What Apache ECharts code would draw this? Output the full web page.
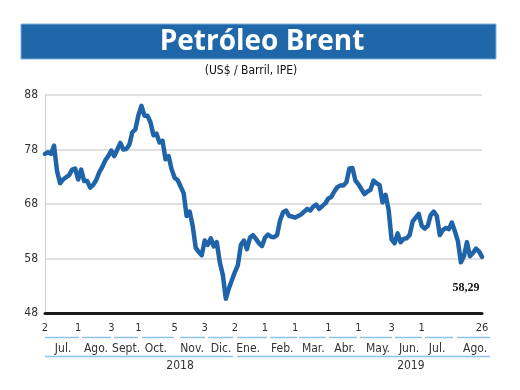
<!DOCTYPE html>
<html><head><meta charset="utf-8">
<script src="https://cdn.jsdelivr.net/npm/echarts@6/dist/echarts.min.js"></script>
<style>html,body{margin:0;padding:0;background:#fff;}#c{width:520px;height:390px;}</style>
</head><body><div id="c"></div>
<script>
// Brent price samples (US$/barrel), roughly every other trading day, Jul 2 2018 -> Aug 26 2019
const prices = [
  77.2, 77.5, 77.2, 78.7, 74.0, 71.8, 72.5, 72.9, 73.3, 74.3,
  74.5, 72.5, 74.3, 72.2, 72.2, 71.0, 71.5, 72.4, 73.8, 74.8,
  76.0, 76.8, 77.8, 76.8, 78.0, 79.2, 78.0, 78.1, 78.9, 81.2,
  81.7, 84.3, 86.0, 84.2, 84.2, 83.0, 80.6, 80.9, 79.3, 79.6,
  76.2, 76.8, 74.4, 72.8, 72.4, 71.2, 70.0, 65.8, 66.6, 64.0,
  60.0, 59.2, 58.6, 61.3, 60.5, 61.7, 60.2, 61.0, 57.3, 55.0,
  50.6, 52.5, 54.0, 55.5, 56.8, 60.5, 61.3, 59.7, 61.8, 62.3,
  61.6, 60.8, 60.3, 61.8, 62.4, 62.0, 61.9, 62.3, 65.0, 66.5,
  66.8, 65.8, 65.7, 65.5, 65.8, 66.1, 66.6, 67.1, 66.8, 67.5,
  67.9, 67.1, 67.6, 68.1, 69.0, 69.3, 70.3, 71.1, 71.4, 71.4,
  72.0, 74.5, 74.6, 72.3, 71.6, 70.7, 69.8, 70.3, 70.6, 72.3,
  71.8, 71.5, 68.3, 69.7, 67.0, 61.5, 60.8, 62.6, 61.0, 61.6,
  61.7, 62.3, 64.8, 65.5, 66.2, 64.0, 63.5, 64.0, 66.0, 66.6,
  65.8, 62.3, 63.2, 63.6, 63.4, 64.6, 63.0, 61.2, 57.3, 58.4,
  61.0, 58.4, 59.0, 59.8, 59.3, 58.29
];
const categories = prices.map((_, i) => 'd' + i);   // sample index
const yMin = 48, yMax = 88, yStep = 10;
// first trading day of each month (sample index) and its day-of-month label
const dayTickIdx    = [0, 11, 22, 31, 43, 53, 63, 73, 83, 94, 104, 115, 125, 145];
const dayTickLabels = ['2','1','3','1','5','3','2','1','1','1','1','3','1','26'];
const monthNames = ['Jul.','Ago.','Sept.','Oct.','Nov.','Dic.','Ene.','Feb.','Mar.','Abr.','May.','Jun.','Jul.','Ago.'];
const monthSpans = [[0,11.2],[12.3,21.9],[22.9,30.9],[32.2,42.8],[44.8,53.1],[54.1,62.4],[63.7,73.7],
                    [74.7,83.6],[84.3,93.3],[94.2,103.5],[104.5,115.1],[116.1,125.1],[126.1,135.4],[136.7,147.7]];
const monthLabelAt = [6.0,16.9,26.9,36.8,48.8,58.4,67.4,78.7,89.0,99.5,110.5,120.8,130.1,142.7];
const years = ['2018','2019'];
const yearSpans = [[0,62.4],[63.7,147.7]];
const yearLabelAt = [44.8,121.4];
const titleText = 'Petróleo Brent';
const subtitleText = '(US$ / Barril, IPE)';
const lastLabel = '58,29';

const FONT = "'Liberation Sans Narrow','DejaVu Sans Condensed','Open Sans',sans-serif";
const chart = echarts.init(document.getElementById('c'), null, {renderer:'canvas'});
const last = prices.length - 1;

chart.setOption({
  animation: false,
  backgroundColor: '#fff',
  grid: {left: 45, right: 38, top: 95, bottom: 77, containLabel: false},
  xAxis: {
    type: 'category', data: categories, boundaryGap: false,
    axisLine: {show: true, lineStyle: {color: '#1a1a1a', width: 3}},
    axisTick: {show: false},
    splitLine: {show: false},
    axisLabel: {
      interval: (i) => dayTickIdx.includes(i),
      formatter: (v, i) => dayTickLabels[dayTickIdx.indexOf(i)],
      margin: 10, fontSize: 11, color: '#333', fontFamily: FONT
    }
  },
  yAxis: {
    type: 'value', min: yMin, max: yMax, interval: yStep,
    axisLine: {show: true, lineStyle: {color: '#cfcfcf', width: 1}},
    axisTick: {show: false},
    axisLabel: {fontSize: 12, color: '#333', margin: 7, fontFamily: FONT},
    splitLine: {show: true, lineStyle: {color: '#d6d6d6', width: 1.5}}
  },
  series: [{
    type: 'line', data: prices, showSymbol: false, symbol: 'none',
    lineStyle: {color: '#1f64a8', width: 4.5, join: 'round', cap: 'round'},
    markPoint: {
      symbol: 'circle', symbolSize: 0,
      data: [{coord: [last, prices[last]], value: lastLabel}],
      label: {show: true, formatter: lastLabel, offset: [-16, 31],
              fontFamily: "'Liberation Serif','DejaVu Serif',serif", fontWeight: 'bold',
              fontSize: 12, color: '#111'}
    }
  }]
});

const p0 = chart.convertToPixel({xAxisIndex: 0}, 0);
const pN = chart.convertToPixel({xAxisIndex: 0}, last);
const step = (pN - p0) / last;
const px = (i) => p0 + i * step;

const g = [
  {type: 'rect', shape: {x: 21, y: 24, width: 475, height: 35},
   style: {fill: '#2067aa', stroke: '#7fb0dc', lineWidth: 1}},
  {type: 'text', x: 262, y: 42,
   style: {text: titleText, fill: '#fff', font: "bold 28px 'Open Sans', Lato, sans-serif",
           textAlign: 'center', textVerticalAlign: 'middle'}},
  {type: 'text', x: 251, y: 71,
   style: {text: subtitleText, fill: '#111', font: "12px " + FONT,
           textAlign: 'center', textVerticalAlign: 'middle'}}
];
monthSpans.forEach((s) => {
  g.push({type: 'line', shape: {x1: px(s[0]), y1: 337.5, x2: px(s[1]), y2: 337.5},
          style: {stroke: '#8ec3ea', lineWidth: 1.5}});
});
monthNames.forEach((m, k) => {
  g.push({type: 'text', x: px(monthLabelAt[k]), y: 349,
          style: {text: m, fill: '#333', font: '12px ' + FONT, textAlign: 'center', textVerticalAlign: 'middle'}});
});
yearSpans.forEach((s) => {
  g.push({type: 'line', shape: {x1: px(s[0]), y1: 356.5, x2: px(s[1]), y2: 356.5},
          style: {stroke: '#8ec3ea', lineWidth: 1.5}});
});
years.forEach((y, k) => {
  g.push({type: 'text', x: px(yearLabelAt[k]), y: 366,
          style: {text: y, fill: '#333', font: '12px ' + FONT, textAlign: 'center', textVerticalAlign: 'middle'}});
});
chart.setOption({graphic: g});
</script></body></html>
